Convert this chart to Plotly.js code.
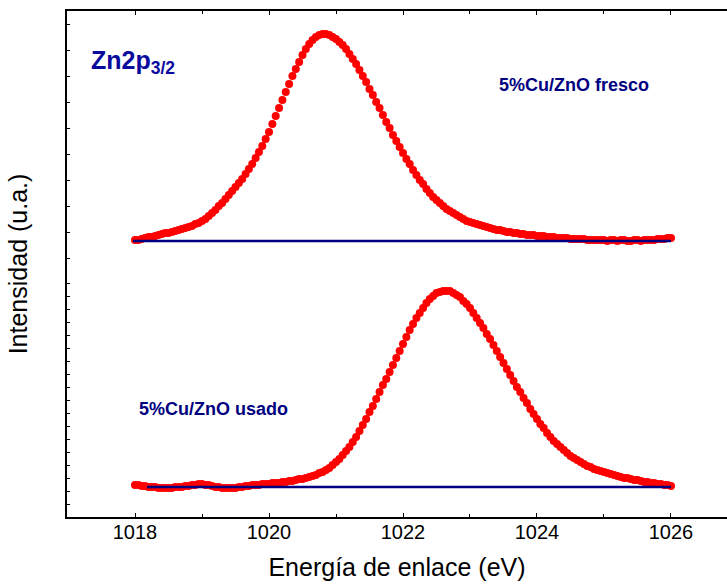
<!DOCTYPE html>
<html>
<head>
<meta charset="utf-8">
<script src="https://cdn.plot.ly/plotly-3.0.1.min.js"></script>
<style>
  html, body { margin: 0; padding: 0; background: #ffffff; }
  #chart { width: 727px; height: 585px; }
</style>
</head>
<body>
<div id="chart"></div>
<script>
// Zn 2p3/2 XPS region, two catalysts stacked on one intensity scale.
const energyStart = 1018.0;   // eV, first channel
const energyStep = 0.05;      // eV between channels

// 5%Cu/ZnO fresco: counts above its own background, 1018.00 .. 1026.00 eV
const freshCounts = [
  1, 1, 2, 3, 4, 4, 5, 6, 7, 8,
  8, 9, 10, 11, 12, 13, 14, 15, 17, 18,
  20, 22, 25, 28, 31, 35, 38, 42, 46, 50,
  54, 58, 62, 67, 72, 77, 83, 89, 95, 102,
  109, 117, 125, 133, 141, 149, 157, 165, 172, 179,
  186, 192, 197, 201, 204, 206, 207, 207, 206, 204,
  202, 199, 196, 192, 187, 182, 177, 171, 165, 159,
  152, 146, 139, 133, 126, 119, 113, 106, 100, 94,
  88, 82, 77, 71, 66, 61, 57, 52, 48, 44,
  41, 38, 35, 32, 30, 28, 26, 24, 22, 20,
  19, 18, 17, 16, 15, 14, 13, 12, 11, 11,
  10, 9, 9, 8, 8, 7, 7, 6, 6, 6,
  5, 5, 5, 4, 4, 4, 3, 3, 3, 3,
  2, 2, 2, 2, 2, 1, 1, 1, 1, 1,
  1, 0, 1, 1, 0, 1, 1, 0, 0, 1,
  1, 0, 1, 1, 1, 1, 2, 2, 2, 3,
  3
];

// 5%Cu/ZnO usado: counts above its own background, 1018.00 .. 1026.00 eV
const usedCounts = [
  2, 2, 1, 1, 0, 0, 0, -1, -1, -1,
  -1, -1, 0, 0, 0, 1, 1, 2, 2, 3,
  3, 2, 2, 1, 0, 0, -1, -1, -1, -1,
  -1, 0, 0, 1, 1, 2, 2, 2, 3, 3,
  3, 4, 4, 4, 5, 5, 6, 6, 7, 8,
  8, 9, 10, 11, 12, 14, 15, 17, 19, 22,
  25, 28, 32, 36, 40, 45, 50, 56, 62, 68,
  75, 81, 88, 95, 102, 108, 115, 122, 129, 136,
  143, 150, 157, 163, 169, 174, 179, 184, 188, 191,
  194, 195, 196, 196, 196, 194, 192, 190, 186, 183,
  179, 174, 169, 164, 159, 153, 148, 142, 136, 130,
  124, 118, 112, 106, 100, 95, 89, 84, 78, 73,
  68, 63, 59, 54, 50, 46, 43, 40, 37, 34,
  31, 29, 27, 25, 23, 21, 20, 18, 17, 16,
  15, 14, 13, 12, 11, 10, 9, 9, 8, 7,
  7, 6, 5, 5, 4, 4, 3, 3, 2, 2,
  1
];

// vertical stacking offsets of the two spectra (a.u.)
const freshOffset = 276;
const usedOffset = 30;

// linear backgrounds under each spectrum
const freshBackgroundX = [1017.97, 1026.0];
const freshBackgroundY = [0, 0];
const usedBackgroundX = [1018.18, 1026.0];
const usedBackgroundY = [0, 0];

const axisTicks = ['1018', '1020', '1022', '1024', '1026'];

const red = '#ff0000';
const navy = '#000080';
const font = 'Liberation Sans, Arial, Helvetica, sans-serif';

const dots = (counts, offset) => ({
  type: 'scatter',
  mode: 'markers',
  x0: energyStart,
  dx: energyStep,
  y: counts.map(v => v + offset),
  marker: { color: red, size: 8, line: { width: 0 } },
  hoverinfo: 'skip'
});

const background = (xs, ys, offset) => ({
  type: 'scatter',
  mode: 'lines',
  x: xs,
  y: ys.map(v => v + offset),
  line: { color: navy, width: 2.5 },
  hoverinfo: 'skip'
});

const data = [
  dots(freshCounts, freshOffset),
  dots(usedCounts, usedOffset),
  background(freshBackgroundX, freshBackgroundY, freshOffset),
  background(usedBackgroundX, usedBackgroundY, usedOffset)
];

// unlabelled intensity ticks: fine spacing low, coarse spacing high
const tickUnit = 12.95;
const yTicks = [];
for (let k = 1; k <= 18; k++) yTicks.push(k * tickUnit);
for (let k = 20; k <= 38; k += 2) yTicks.push(k * tickUnit);

const layout = {
  width: 727,
  height: 585,
  margin: { l: 67, r: 0, t: 11, b: 68 },
  paper_bgcolor: '#ffffff',
  plot_bgcolor: '#ffffff',
  showlegend: false,
  font: { family: font, color: '#000000' },
  xaxis: {
    range: [1016.985, 1026.836],
    tickvals: axisTicks.map(Number),
    ticktext: axisTicks,
    ticks: 'inside',
    ticklen: 4,
    tickwidth: 1,
    tickcolor: '#000000',
    minor: { dtick: 1, tick0: 1017, ticks: 'inside', ticklen: 3, tickwidth: 1, tickcolor: '#000000' },
    mirror: 'allticks',
    showline: true,
    linecolor: '#000000',
    linewidth: 2,
    showgrid: false,
    zeroline: false,
    ticklabelstandoff: -4,
    tickfont: { family: font, size: 20, color: '#000000' },
    title: { text: 'Energía de enlace (eV)', font: { family: font, size: 25, color: '#000000' }, standoff: 16 }
  },
  yaxis: {
    range: [0, 506],
    tickvals: yTicks,
    showticklabels: false,
    ticks: 'inside',
    ticklen: 3,
    tickwidth: 1,
    tickcolor: '#000000',
    showline: true,
    linecolor: '#000000',
    linewidth: 2,
    showgrid: false,
    zeroline: false,
    title: { text: 'Intensidad (u.a.)', font: { family: font, size: 25, color: '#000000' }, standoff: 30 }
  },
  annotations: [
    {
      xref: 'paper', yref: 'paper', x: 0.034, y: 0.9, xanchor: 'left', yanchor: 'middle',
      text: '<b>Zn2p<sub>3/2</sub></b>', showarrow: false,
      font: { family: font, size: 25, color: '#0a0a9e' }
    },
    {
      xref: 'paper', yref: 'paper', x: 0.6515, y: 0.854, xanchor: 'left', yanchor: 'middle',
      text: '<b>5%Cu/ZnO fresco</b>', showarrow: false,
      font: { family: font, size: 18, color: navy }
    },
    {
      xref: 'paper', yref: 'paper', x: 0.106, y: 0.2134, xanchor: 'left', yanchor: 'middle',
      text: '<b>5%Cu/ZnO usado</b>', showarrow: false,
      font: { family: font, size: 18, color: navy }
    }
  ]
};

Plotly.newPlot('chart', data, layout, { staticPlot: true, displayModeBar: false });
</script>
</body>
</html>
